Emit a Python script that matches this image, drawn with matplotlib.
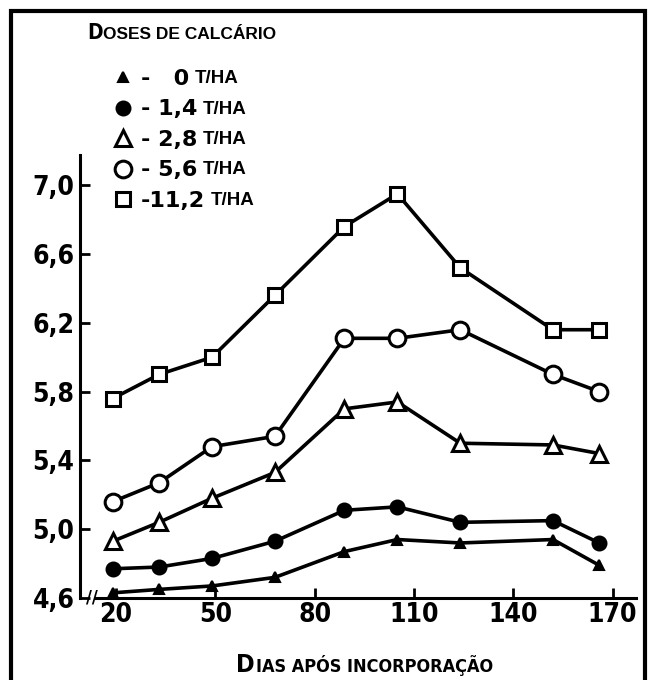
import matplotlib
matplotlib.use("Agg")
import matplotlib.pyplot as plt
from matplotlib import font_manager as fm
from matplotlib.patches import Rectangle

# dias apos incorporacao (sampling days) and soil pH for each lime dose
dias = [19, 33, 49, 68, 89, 105, 124, 152, 166]
ph_0 = [4.63, 4.65, 4.67, 4.72, 4.87, 4.94, 4.92, 4.94, 4.79]
ph_14 = [4.77, 4.78, 4.83, 4.93, 5.11, 5.13, 5.04, 5.05, 4.92]
ph_28 = [4.93, 5.04, 5.18, 5.33, 5.70, 5.74, 5.50, 5.49, 5.44]
ph_56 = [5.16, 5.27, 5.48, 5.54, 6.11, 6.11, 6.16, 5.90, 5.80]
ph_112 = [5.76, 5.90, 6.00, 6.36, 6.76, 6.95, 6.52, 6.16, 6.16]

dose_labels = ["-   0", "- 1,4", "- 2,8", "- 5,6", "-11,2"]
x_ticks = [20, 50, 80, 110, 140, 170]
y_ticks = [4.6, 5.0, 5.4, 5.8, 6.2, 6.6, 7.0]
y_ticklabels = ["4,6", "5,0", "5,4", "5,8", "6,2", "6,6", "7,0"]

# pick a condensed face if one is installed
fonts = fm.fontManager.ttflist
names = {f.name for f in fonts}
if "Liberation Sans Narrow" in names:
    NARROW = dict(family=["Liberation Sans Narrow", "DejaVu Sans"], stretch="normal")
    tick_size = 21
elif any(f.name == "DejaVu Sans" and str(f.stretch) in ("condensed", "semi-condensed")
         for f in fonts):
    NARROW = dict(family=["DejaVu Sans"], stretch="condensed")
    tick_size = 19
elif "Roboto Condensed" in names:
    NARROW = dict(family=["Roboto Condensed", "DejaVu Sans"], stretch="normal")
    tick_size = 21
else:
    NARROW = dict(family=["Liberation Sans", "DejaVu Sans"], stretch="normal")
    tick_size = 18
WIDE = dict(family=["Liberation Sans", "DejaVu Sans"])

W, H = 653, 680


def fx(px):
    return px / W


def fy(py):
    return 1 - py / H


fig = plt.figure(figsize=(6.53, 6.8), dpi=100)
ax = fig.add_axes([fx(80), fy(598), fx(636) - fx(80), fy(155) - fy(598)])

styles = [
    dict(marker="^", ms=7, mfc="black", mew=1.5),
    dict(marker="o", ms=10, mfc="black", mew=1.5),
    dict(marker="^", ms=11, mfc="white", mew=2.2),
    dict(marker="o", ms=12, mfc="white", mew=2.2),
    dict(marker="s", ms=10, mfc="white", mew=2.2),
]
handles = []
for vals, st in zip([ph_0, ph_14, ph_28, ph_56, ph_112], styles):
    ax.plot(dias, vals, color="black", lw=2.6, mec="black",
            clip_on=False, zorder=3, **st)
    handles.append(ax.plot([], [], ls="none", color="black", mec="black", **st)[0])

ax.set_xlim(9.1, 177.1)
ax.set_ylim(4.6, 7.176)
for s in ["top", "right"]:
    ax.spines[s].set_visible(False)
ax.spines["left"].set_linewidth(2.2)
ax.spines["bottom"].set_linewidth(2.2)
ax.spines["bottom"].set_bounds(14, 177.1)

ax.set_xticks(x_ticks)
ax.set_yticks(y_ticks)
ax.set_yticklabels(y_ticklabels)
ax.tick_params(direction="in", length=7, width=2, labelsize=tick_size)
ax.tick_params(axis="y", pad=4)
ax.tick_params(axis="x", pad=3)
for lbl in ax.get_xticklabels() + ax.get_yticklabels():
    lbl.set_family(NARROW["family"])
    lbl.set_stretch(NARROW["stretch"])
    lbl.set_fontweight("bold")

# axis break mark
ax.text(0.022, 0, "//", transform=ax.transAxes, ha="center", va="center",
        fontsize=13, fontweight="bold", **NARROW)

# title (small caps look)
t1 = fig.text(fx(87), fy(39), "D", fontsize=15, weight="bold",
              va="baseline", **NARROW)
ax.annotate("OSES DE CALCÁRIO", xy=(1, 0), xycoords=t1, xytext=(0.5, 3.2),
            textcoords="offset points", fontsize=12.5, weight="bold",
            va="baseline", annotation_clip=False, **WIDE)

# x axis label (small caps look)
t2 = fig.text(fx(236), fy(672), "D", fontsize=18, weight="bold",
              va="baseline", **NARROW)
ax.annotate("IAS APÓS INCORPORAÇÃO", xy=(1, 0), xycoords=t2, xytext=(1, 3.8),
            textcoords="offset points", fontsize=13, weight="bold",
            va="baseline", annotation_clip=False, **NARROW)

# legend
leg = ax.legend(handles, dose_labels, loc="upper left",
                bbox_to_anchor=(fx(112), fy(69)), bbox_transform=fig.transFigure,
                frameon=False, borderpad=0, borderaxespad=0, handlelength=1.0,
                handletextpad=0.3, labelspacing=0.47,
                prop=dict(family=["DejaVu Sans"], weight="bold", size=16))
for txt in leg.get_texts():
    ax.annotate("T/HA", xy=(1, 0), xycoords=txt, xytext=(4, 4.2),
                textcoords="offset points", fontsize=13.5, weight="bold",
                va="baseline", annotation_clip=False, zorder=10, **WIDE)

# scanned page frame
fig.add_artist(Rectangle((fx(11), -0.05), fx(645) - fx(11), fy(11) + 0.05,
                         transform=fig.transFigure, fill=False,
                         edgecolor="black", lw=3))

fig.savefig("out.png", dpi=100)
